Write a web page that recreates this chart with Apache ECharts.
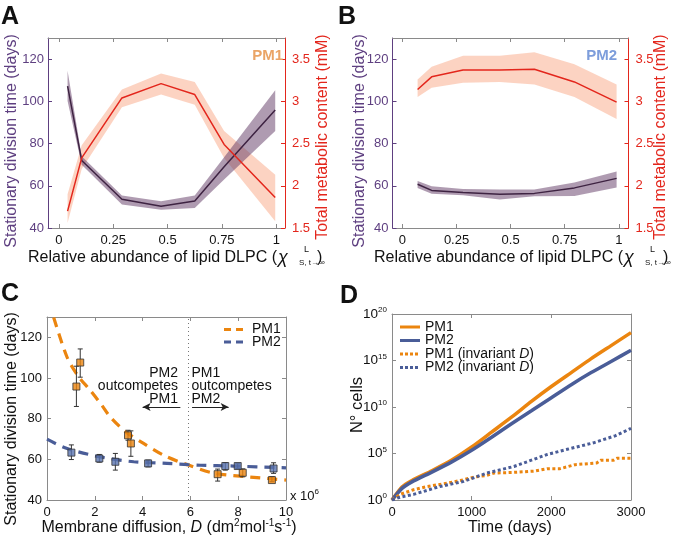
<!DOCTYPE html>
<html><head><meta charset="utf-8">
<script src="https://cdn.jsdelivr.net/npm/echarts@6/dist/echarts.min.js"></script>
<style>html,body{margin:0;padding:0;background:#fff}#c{width:675px;height:541px}</style>
</head><body><div id="c"></div><script>
// ---------- Panel A (PM1) ----------
const aX       = [0.04, 0.105, 0.29, 0.47, 0.625, 0.76, 0.995];
const aDays    = [107.2, 72.0, 53.6, 50.3, 52.8, 69.0, 95.9];
const aDaysLo  = [100.2, 70.0, 51.1, 48.7, 49.5, 63.0, 86.0];
const aDaysHi  = [114.5, 74.0, 55.4, 52.7, 55.4, 73.5, 105.3];
const aMM      = [1.70, 2.33, 3.04, 3.21, 3.08, 2.49, 1.86];
const aMMLo    = [1.56, 2.20, 2.93, 3.08, 2.96, 2.33, 1.58];
const aMMHi    = [1.90, 2.48, 3.14, 3.33, 3.23, 2.65, 2.13];
// ---------- Panel B (PM2) ----------
const bX       = [0.07, 0.135, 0.28, 0.45, 0.61, 0.795, 0.99];
const bDays    = [60.7, 57.8, 56.8, 56.0, 56.4, 59.0, 63.5];
const bDaysLo  = [59.0, 56.2, 55.5, 53.5, 55.0, 55.2, 59.2];
const bDaysHi  = [62.3, 59.8, 58.5, 58.2, 58.2, 61.6, 66.8];
const bMM      = [3.14, 3.29, 3.37, 3.37, 3.38, 3.23, 2.99];
const bMMLo    = [3.05, 3.16, 3.22, 3.23, 3.20, 3.05, 2.79];
const bMMHi    = [3.26, 3.41, 3.54, 3.54, 3.58, 3.44, 3.20];
// shared tick labels
const abXTicks    = [0, 0.25, 0.5, 0.75, 1];
const abDaysTicks = [40, 60, 80, 100, 120];
const abMMTicks   = [1.5, 2, 2.5, 3, 3.5];
// ---------- Panel C ----------
const cPM1CurveX = [0.28, 0.84, 1.3, 1.81, 2.3, 2.65, 3.3, 4.04, 4.88, 5.86, 6.97, 8.5, 10];
const cPM1CurveY = [129.8, 110.2, 101.0, 93.9, 86.5, 80.8, 73.5, 67.8, 62.0, 57.4, 53.2, 51.3, 49.8];
const cPM2CurveX = [0, 0.84, 2.23, 3.63, 5.02, 6.42, 7.81, 10];
const cPM2CurveY = [69.9, 65.3, 61.2, 58.8, 58.0, 57.1, 56.7, 55.8];
const cPM1PtsX  = [1.23, 1.39, 3.39, 3.51, 7.14, 8.19, 9.41];
const cPM1PtsY  = [95.8, 107.6, 71.8, 67.8, 52.7, 53.4, 49.8];
const cPM1PtsLo = [86.0, 100.4, 69.4, 61.5, 49.3, 51.4, 49.0];
const cPM1PtsHi = [105.8, 114.3, 74.3, 74.0, 55.2, 55.3, 51.4];
const cPM2PtsX  = [1.02, 2.19, 2.86, 4.23, 7.46, 7.98, 9.48];
const cPM2PtsY  = [63.3, 60.4, 58.8, 58.0, 56.7, 56.7, 55.5];
const cPM2PtsLo = [59.9, 58.6, 54.7, 56.3, 54.7, 55.5, 53.1];
const cPM2PtsHi = [67.1, 62.4, 62.9, 59.6, 58.3, 57.8, 58.3];
const cXTicks = [0, 2, 4, 6, 8, 10];
const cCrossD = 5.9;
// ---------- Panel D (exponent: number of cells = 10^value) ----------
const dT       = [0, 125, 250, 500, 750, 1000, 1250, 1500, 1750, 2000, 2250, 2500, 2750, 3000];
const dPM1Exp  = [0, 1.4, 2.1, 3.15, 4.3, 5.7, 7.3, 8.9, 10.6, 12.2, 13.7, 15.2, 16.6, 18.0];
const dPM2Exp  = [0, 1.25, 1.95, 3.0, 4.1, 5.35, 6.75, 8.2, 9.6, 11.0, 12.4, 13.7, 14.9, 16.1];
const dPM1InvT   = [0, 100, 270, 440, 690, 860, 1025, 1190, 1280, 1530, 1780, 1950, 2110, 2300, 2570, 2620, 2780, 2830, 3000];
const dPM1InvExp = [0, 0.6, 1.1, 1.45, 1.8, 2.1, 2.45, 2.65, 2.9, 2.97, 3.1, 3.37, 3.37, 3.8, 3.98, 4.27, 4.27, 4.5, 4.5];
const dPM2InvT   = [0, 100, 270, 600, 900, 1190, 1530, 1950, 2200, 2530, 2800, 3000];
const dPM2InvExp = [0, 0.3, 0.6, 1.45, 2.0, 2.9, 3.6, 4.9, 5.45, 6.15, 6.9, 7.7];
const dXTicks = [0, 1000, 2000, 3000];
const dYExpTicks = [0, 5, 10, 15, 20];

// ---------- styling ----------
const F = 'Liberation Sans, Arial, Helvetica, sans-serif';
const PURPLE_TXT = '#5e3f80', PURPLE_LINE = '#3e2342', PURPLE_BAND = 'rgba(95,55,100,0.5)';
const RED = '#e3261c', RED_BAND = 'rgba(248,150,110,0.42)';
const ORANGE = '#eb850f', BLUE = '#4a5d98', FRAME = '#8a8a8a';

const zip = (xs, ys) => xs.map((x, i) => [x, ys[i]]);

function band(xs, lo, hi, color, xi, yi) {
  return {
    type: 'custom', xAxisIndex: xi, yAxisIndex: yi, silent: true, z: 1,
    data: xs.map((x, i) => [x, lo[i], hi[i]]),
    encode: { x: 0, y: [1, 2] },
    renderItem: function (params, api) {
      if (params.dataIndex !== 0) return { type: 'group', children: [] };
      const pts = [];
      for (let i = 0; i < xs.length; i++) pts.push(api.coord([xs[i], hi[i]]));
      for (let i = xs.length - 1; i >= 0; i--) pts.push(api.coord([xs[i], lo[i]]));
      return { type: 'polygon', shape: { points: pts }, style: { fill: color } };
    }
  };
}
function errBars(xs, lo, hi, xi, yi) {
  return {
    type: 'custom', xAxisIndex: xi, yAxisIndex: yi, silent: true, z: 4,
    data: xs.map((x, i) => [x, lo[i], hi[i]]),
    encode: { x: 0, y: [1, 2] },
    renderItem: function (params, api) {
      const x = api.value(0);
      const p1 = api.coord([x, api.value(2)]), p2 = api.coord([x, api.value(1)]);
      const w = 2.5, st = { stroke: '#333', lineWidth: 1 };
      return { type: 'group', children: [
        { type: 'line', shape: { x1: p1[0], y1: p1[1], x2: p2[0], y2: p2[1] }, style: st },
        { type: 'line', shape: { x1: p1[0] - w, y1: p1[1], x2: p1[0] + w, y2: p1[1] }, style: st },
        { type: 'line', shape: { x1: p2[0] - w, y1: p2[1], x2: p2[0] + w, y2: p2[1] }, style: st }
      ] };
    }
  };
}

const tickIn = (color, vals) => ({ show: true, inside: true, length: 4, lineStyle: { color: color }, customValues: vals });
const line = (color) => ({ show: true, onZero: false, lineStyle: { color: color, width: 1 } });
const lblStyle = (color, vals, margin) => ({ show: true, color: color, fontSize: 13, fontFamily: F, margin: margin, customValues: vals, formatter: v => String(v) });

function xPair(grid, min, max, ticks) {
  return [
    { type: 'value', gridIndex: grid, position: 'bottom', min: min, max: max, axisLine: line(FRAME),
      axisTick: tickIn(FRAME, ticks), axisLabel: lblStyle('#111', ticks, 6), splitLine: { show: false } },
    { type: 'value', gridIndex: grid, position: 'top', min: min, max: max, axisLine: line(FRAME),
      axisTick: tickIn(FRAME, ticks), axisLabel: { show: false }, splitLine: { show: false } }
  ];
}

const xAxes = [
  ...xPair(0, -0.05, 1.04, abXTicks),
  ...xPair(1, -0.046, 1.045, abXTicks),
  ...xPair(2, 0, 10, cXTicks),
  ...xPair(3, 0, 3000, dXTicks)
];

const expFmt = v => '{b|10}{s|' + v + '}';
const yAxes = [
  // A
  { type: 'value', gridIndex: 0, position: 'left', min: 40, max: 130, axisLine: line(PURPLE_TXT),
    axisTick: tickIn(PURPLE_TXT, abDaysTicks), axisLabel: lblStyle(PURPLE_TXT, abDaysTicks, 4), splitLine: { show: false } },
  { type: 'value', gridIndex: 0, position: 'right', min: 1.5, max: 3.75, axisLine: line(RED),
    axisTick: tickIn(RED, abMMTicks), axisLabel: lblStyle(RED, abMMTicks, 7), splitLine: { show: false } },
  // B
  { type: 'value', gridIndex: 1, position: 'left', min: 40, max: 130, axisLine: line(PURPLE_TXT),
    axisTick: tickIn(PURPLE_TXT, abDaysTicks), axisLabel: lblStyle(PURPLE_TXT, abDaysTicks, 4), splitLine: { show: false } },
  { type: 'value', gridIndex: 1, position: 'right', min: 1.5, max: 3.75, axisLine: line(RED),
    axisTick: tickIn(RED, abMMTicks), axisLabel: lblStyle(RED, abMMTicks, 7), splitLine: { show: false } },
  // C
  { type: 'value', gridIndex: 2, position: 'left', min: 40, max: 130, axisLine: line(FRAME),
    axisTick: tickIn(FRAME, abDaysTicks), axisLabel: lblStyle('#111', abDaysTicks, 5), splitLine: { show: false } },
  { type: 'value', gridIndex: 2, position: 'right', min: 40, max: 130, axisLine: line(FRAME),
    axisTick: tickIn(FRAME, abDaysTicks), axisLabel: { show: false }, splitLine: { show: false } },
  // D (log10 scale shown as exponents)
  { type: 'value', gridIndex: 3, position: 'left', min: 0, max: 20, axisLine: line(FRAME),
    axisTick: tickIn(FRAME, dYExpTicks),
    axisLabel: { show: true, margin: 5, formatter: expFmt, customValues: dYExpTicks,
      rich: { b: { fontSize: 13.5, fontFamily: F, color: '#111', lineHeight: 16 },
              s: { fontSize: 8, fontFamily: F, color: '#111', verticalAlign: 'top', lineHeight: 9 } } },
    splitLine: { show: false } },
  { type: 'value', gridIndex: 3, position: 'right', min: 0, max: 20, axisLine: line(FRAME),
    axisTick: tickIn(FRAME, dYExpTicks), axisLabel: { show: false }, splitLine: { show: false } }
];

const series = [
  // A
  band(aX, aMMLo, aMMHi, RED_BAND, 0, 1),
  band(aX, aDaysLo, aDaysHi, PURPLE_BAND, 0, 0),
  { type: 'line', xAxisIndex: 0, yAxisIndex: 0, data: zip(aX, aDays), showSymbol: false, z: 3,
    lineStyle: { color: PURPLE_LINE, width: 1.5 } },
  { type: 'line', xAxisIndex: 0, yAxisIndex: 1, data: zip(aX, aMM), showSymbol: false, z: 3,
    lineStyle: { color: RED, width: 1.5 } },
  // B
  band(bX, bMMLo, bMMHi, RED_BAND, 2, 3),
  band(bX, bDaysLo, bDaysHi, PURPLE_BAND, 2, 2),
  { type: 'line', xAxisIndex: 2, yAxisIndex: 2, data: zip(bX, bDays), showSymbol: false, z: 3,
    lineStyle: { color: PURPLE_LINE, width: 1.5 } },
  { type: 'line', xAxisIndex: 2, yAxisIndex: 3, data: zip(bX, bMM), showSymbol: false, z: 3,
    lineStyle: { color: RED, width: 1.5 } },
  // C
  { type: 'line', xAxisIndex: 4, yAxisIndex: 4, data: zip(cPM1CurveX, cPM1CurveY), showSymbol: false, smooth: 0.3, z: 2,
    lineStyle: { color: ORANGE, width: 3.2, type: [10, 7] },
    markLine: { silent: true, symbol: ['none', 'none'], label: { show: false },
      lineStyle: { color: '#777', width: 1, type: [1, 3] },
      data: [ [ { coord: [cCrossD, 40] }, { coord: [cCrossD, 130] } ] ] } },
  { type: 'line', xAxisIndex: 4, yAxisIndex: 4, data: zip(cPM2CurveX, cPM2CurveY), showSymbol: false, smooth: 0.3, z: 2,
    lineStyle: { color: BLUE, width: 3.2, type: [10, 7] },
    markLine: { silent: true, symbol: ['none', 'arrow'], symbolSize: [6, 8], label: { show: false },
      lineStyle: { color: '#222', width: 1, type: 'solid' },
      data: [ [ { coord: [5.58, 85.7] }, { coord: [4.0, 85.7] } ],
              [ { coord: [6.07, 85.7] }, { coord: [7.6, 85.7] } ] ] } },
  errBars(cPM1PtsX, cPM1PtsLo, cPM1PtsHi, 4, 4),
  errBars(cPM2PtsX, cPM2PtsLo, cPM2PtsHi, 4, 4),
  { type: 'scatter', xAxisIndex: 4, yAxisIndex: 4, data: zip(cPM1PtsX, cPM1PtsY), symbol: 'rect', symbolSize: 7, z: 5,
    itemStyle: { color: ORANGE, borderColor: '#333', borderWidth: 1 } },
  { type: 'scatter', xAxisIndex: 4, yAxisIndex: 4, data: zip(cPM2PtsX, cPM2PtsY), symbol: 'rect', symbolSize: 7, z: 5,
    itemStyle: { color: '#5a74b0', borderColor: '#333', borderWidth: 1 } },
  // D
  { type: 'line', xAxisIndex: 6, yAxisIndex: 6, data: zip(dT, dPM1Exp), showSymbol: false, smooth: 0.2, z: 3,
    lineStyle: { color: ORANGE, width: 3.5 } },
  { type: 'line', xAxisIndex: 6, yAxisIndex: 6, data: zip(dT, dPM2Exp), showSymbol: false, smooth: 0.2, z: 3,
    lineStyle: { color: BLUE, width: 3.5 } },
  { type: 'line', xAxisIndex: 6, yAxisIndex: 6, data: zip(dPM1InvT, dPM1InvExp), showSymbol: false, z: 3,
    lineStyle: { color: ORANGE, width: 3, type: [3, 2.5] } },
  { type: 'line', xAxisIndex: 6, yAxisIndex: 6, data: zip(dPM2InvT, dPM2InvExp), showSymbol: false, z: 3,
    lineStyle: { color: BLUE, width: 3, type: [3, 2.5] } }
];

// ---------- text / legends ----------
function txt(x, y, text, o) {
  o = o || {};
  return { type: 'text', x: x, y: y, rotation: o.rot || 0, z: 10, silent: true,
    style: { text: text, fill: o.color || '#111', font: (o.weight || 'normal') + ' ' + (o.size || 16) + 'px ' + F,
      textAlign: o.align || 'left', textVerticalAlign: 'middle', rich: o.rich, lineHeight: o.lh } };
}
const R = Math.PI / 2;
function abXTitle(dx) {
  return [
    txt(277 + dx, 258, 'Relative abundance of lipid DLPC (', { align: 'right' }),
    txt(278 + dx, 258, 'χ', { size: 18, weight: 'italic' }),
    txt(304 + dx, 250, 'L', { size: 9 }),
    txt(299 + dx, 263, 'S, t→∞', { size: 8 }),
    txt(317 + dx, 258, ')', {})
  ];
}
const supRich = {
  n: { fontSize: 16, fontFamily: F, color: '#111', lineHeight: 20 },
  i: { fontSize: 16, fontFamily: F, color: '#111', fontStyle: 'italic', lineHeight: 20 },
  s: { fontSize: 10, fontFamily: F, color: '#111', verticalAlign: 'top', lineHeight: 11 }
};
const legRich = { n: { fontSize: 14, fontFamily: F, color: '#111' }, i: { fontSize: 14, fontFamily: F, color: '#111', fontStyle: 'italic' } };
const graphics = [
  txt(1, 17, 'A', { size: 25, weight: 'bold' }),
  txt(338, 17, 'B', { size: 25, weight: 'bold' }),
  txt(1, 294, 'C', { size: 25, weight: 'bold' }),
  txt(340, 296, 'D', { size: 25, weight: 'bold' }),
  txt(12, 141, 'Stationary division time (days)', { rot: R, align: 'center', color: PURPLE_TXT }),
  txt(323, 137, 'Total metabolic content (mM)', { rot: R, align: 'center', color: RED }),
  txt(360, 141, 'Stationary division time (days)', { rot: R, align: 'center', color: PURPLE_TXT }),
  txt(661, 137, 'Total metabolic content (mM)', { rot: R, align: 'center', color: RED }),
  ...abXTitle(0),
  ...abXTitle(346),
  txt(283, 56, 'PM1', { size: 15, weight: 'bold', align: 'right', color: '#eaa466' }),
  txt(617, 56, 'PM2', { size: 15, weight: 'bold', align: 'right', color: '#7d9ddb' }),
  // C
  txt(12, 419, 'Stationary division time (days)', { rot: R, align: 'center' }),
  txt(169, 528, '{n|Membrane diffusion, }{i|D}{n| (dm}{s|2}{n|mol}{s|-1}{n|s}{s|-1}{n|)}', { align: 'center', rich: supRich }),
  txt(290, 496, '{m|x 10}{t|6}', { rich: { m: { fontSize: 13, fontFamily: F, color: '#111', lineHeight: 16 },
    t: { fontSize: 8, fontFamily: F, color: '#111', verticalAlign: 'top', lineHeight: 9 } } }),
  txt(178, 386, 'PM2\noutcompetes\nPM1', { size: 14, align: 'right', lh: 13 }),
  txt(191.5, 386, 'PM1\noutcompetes\nPM2', { size: 14, align: 'left', lh: 13 }),
  { type: 'line', shape: { x1: 224, y1: 329.5, x2: 248, y2: 329.5 }, style: { stroke: ORANGE, lineWidth: 3, lineDash: [7, 5] }, z: 10 },
  { type: 'line', shape: { x1: 224, y1: 342, x2: 248, y2: 342 }, style: { stroke: BLUE, lineWidth: 3, lineDash: [7, 5] }, z: 10 },
  txt(252, 329.5, 'PM1', { size: 14 }),
  txt(252, 342, 'PM2', { size: 14 }),
  // D
  txt(357, 405, 'N° cells', { rot: R, align: 'center', size: 16.5 }),
  txt(510, 528, 'Time (days)', { align: 'center' }),
  { type: 'line', shape: { x1: 400, y1: 327, x2: 420, y2: 327 }, style: { stroke: ORANGE, lineWidth: 3 }, z: 10 },
  { type: 'line', shape: { x1: 400, y1: 340.5, x2: 420, y2: 340.5 }, style: { stroke: BLUE, lineWidth: 3 }, z: 10 },
  { type: 'line', shape: { x1: 400, y1: 354, x2: 420, y2: 354 }, style: { stroke: ORANGE, lineWidth: 3, lineDash: [3, 2] }, z: 10 },
  { type: 'line', shape: { x1: 400, y1: 367.5, x2: 420, y2: 367.5 }, style: { stroke: BLUE, lineWidth: 3, lineDash: [3, 2] }, z: 10 },
  txt(425, 327, 'PM1', { size: 14 }),
  txt(425, 340.5, 'PM2', { size: 14 }),
  txt(425, 354, '{n|PM1 (invariant }{i|D}{n|)}', { rich: legRich }),
  txt(425, 367.5, '{n|PM2 (invariant }{i|D}{n|)}', { rich: legRich })
];

const chart = echarts.init(document.getElementById('c'), null, { renderer: 'canvas' });
chart.setOption({
  animation: false,
  backgroundColor: '#fff',
  textStyle: { fontFamily: F },
  grid: [
    { left: 48, top: 38, width: 237, height: 190, containLabel: false, outerBoundsMode: 'none' },
    { left: 392.5, top: 38, width: 236, height: 190, containLabel: false, outerBoundsMode: 'none' },
    { left: 47, top: 317, width: 239, height: 183, containLabel: false, outerBoundsMode: 'none' },
    { left: 392, top: 314, width: 239, height: 186, containLabel: false, outerBoundsMode: 'none' }
  ],
  xAxis: xAxes,
  yAxis: yAxes,
  series: series,
  graphic: graphics
});
</script></body></html>
